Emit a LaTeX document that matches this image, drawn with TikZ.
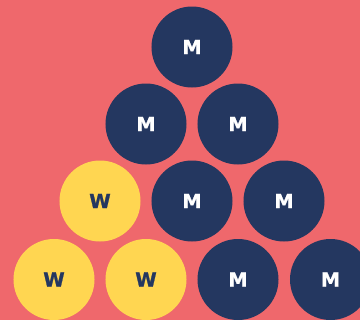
\documentclass[tikz,border=0pt]{standalone}
\usepackage{fontspec}
\setmainfont{DejaVu Sans}
\newfontfamily\heavyfont[FakeBold=1.2]{DejaVu Sans Bold}
\definecolor{bg}{HTML}{EF686C}
\definecolor{navy}{HTML}{243760}
\definecolor{gold}{HTML}{FFD651}
\begin{document}
\begin{tikzpicture}[x=1bp,y=-1bp,
  ball/.style={circle,minimum size=81bp,inner sep=0pt,font=\heavyfont\fontsize{19.5}{19.5}\selectfont},
  mball/.style={ball,fill=navy,text=white},
  wball/.style={ball,fill=gold,text=navy}]
\fill[bg] (0,0) rectangle (360,320);
\clip (0,0) rectangle (360,320);
\node[mball] (a1) at (192,47) {M};
\node[mball] (b1) at (146,124) {M};
\node[mball] (b2) at (238,124) {M};
\node[wball] (c1) at (100,201) {W};
\node[mball] (c2) at (192,201) {M};
\node[mball] (c3) at (284,201) {M};
\node[wball] (d1) at (54,279.5) {W};
\node[wball] (d2) at (146,279.5) {W};
\node[mball] (d3) at (238,279.5) {M};
\node[mball] (d4) at (330.5,279.5) {M};
\end{tikzpicture}
\end{document}
